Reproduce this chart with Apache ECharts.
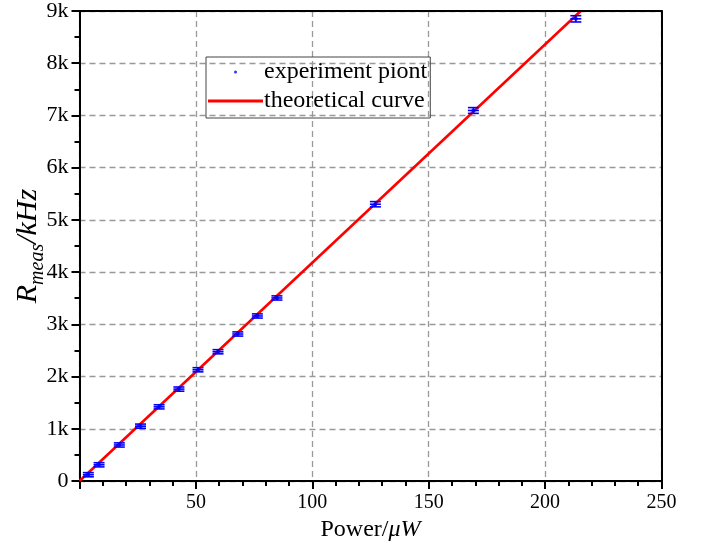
<!DOCTYPE html>
<html><head><meta charset="utf-8">
<script src="https://cdn.jsdelivr.net/npm/echarts@6/dist/echarts.min.js"></script>
<style>html,body{margin:0;padding:0;background:#fff}#c{width:702px;height:543px}</style>
</head><body><div id="c"></div>
<script>
// experiment points: power (µW), count rate (Hz), error (Hz)
const powerX = [3.8, 8.4, 17.1, 26.2, 34.2, 42.7, 50.9, 59.5, 68.0, 76.4, 84.8, 127.1, 169.2, 213.2];
const rateY  = [120, 310, 690, 1050, 1420, 1760, 2130, 2475, 2815, 3160, 3505, 5300, 7095, 8850];
const rateErr = [40, 40, 40, 40, 40, 40, 40, 40, 40, 40, 40, 50, 55, 60];
// theoretical curve
const curveX = [0, 215.3];
const curveY = [0, 9000];
const xTicks = [0, 50, 100, 150, 200, 250];
const yTicks = ['0','1k','2k','3k','4k','5k','6k','7k','8k','9k'];

const serif = 'Liberation Serif';
const chart = echarts.init(document.getElementById('c'));
const pts = powerX.map((x, i) => [x, rateY[i], rateErr[i]]);
const curve = curveX.map((x, i) => [x, curveY[i]]);
const dashed = {show: true, lineStyle: {color: '#999', type: [6, 4], width: 1.3}};
const frame = {onZero: false, lineStyle: {color: '#000', width: 2}};
chart.setOption({
  animation: false,
  backgroundColor: '#fff',
  grid: {left: 79.5, right: 40.5, top: 11, bottom: 62, containLabel: false, outerBoundsMode: 'none'},
  legend: {
    orient: 'vertical', left: 206, top: 57,
    borderColor: '#444', borderWidth: 1, padding: [3, 3, 5, 2],
    itemWidth: 55, itemHeight: 3, itemGap: 5,
    textStyle: {fontFamily: serif, fontSize: 24, color: '#000', padding: [0, 0, 0, -4]},
    data: [{name: 'experiment piont', icon: 'circle'}, {name: 'theoretical curve', icon: 'rect'}]
  },
  xAxis: [{
    type: 'value', min: xTicks[0], max: xTicks[xTicks.length - 1], interval: 50,
    name: '{n|Power/}{i|μW}', nameLocation: 'middle', nameGap: 37, nameMoveOverlap: false,
    nameTextStyle: {rich: {n: {fontFamily: serif, fontSize: 24, color: '#000'}, i: {fontFamily: serif, fontSize: 24, fontStyle: 'italic', color: '#000'}}},
    axisLine: frame,
    axisTick: {show: true, inside: false, length: 8, lineStyle: {color: '#000', width: 2}},
    minorTick: {show: true, splitNumber: 5, length: 5, lineStyle: {color: '#000', width: 2}},
    axisLabel: {fontFamily: serif, fontSize: 20, color: '#000', margin: 12,
      formatter: v => v === 0 ? '' : String(v)},
    splitLine: dashed
  }, {
    type: 'value', position: 'top', min: 0, max: 250, z: 10,
    axisLine: frame, axisTick: {show: false}, axisLabel: {show: false}, splitLine: {show: false}
  }],
  yAxis: [{
    type: 'value', min: 0, max: 9000, interval: 1000,
    name: '{r|R}{s|meas}{r|/kHz}', nameLocation: 'middle', nameGap: 34, nameMoveOverlap: false,
    nameTextStyle: {rich: {
      r: {fontFamily: serif, fontSize: 30, fontStyle: 'italic', color: '#000', lineHeight: 34},
      s: {fontFamily: serif, fontSize: 20, fontStyle: 'italic', color: '#000', verticalAlign: 'bottom', lineHeight: 34, padding: [0, 0, -2, 0]}
    }},
    axisLine: frame,
    axisTick: {show: true, inside: false, length: 8, lineStyle: {color: '#000', width: 2}},
    minorTick: {show: true, splitNumber: 2, length: 5, lineStyle: {color: '#000', width: 2}},
    axisLabel: {fontFamily: serif, fontSize: 22, color: '#000', margin: 11,
      formatter: v => yTicks[Math.round(v / 1000)]},
    splitLine: dashed
  }, {
    type: 'value', position: 'right', min: 0, max: 9000, z: 10,
    axisLine: frame, axisTick: {show: false}, axisLabel: {show: false}, splitLine: {show: false}
  }],
  series: [
    {name: 'theoretical curve', type: 'line', data: curve, showSymbol: false, color: '#ff0000',
     lineStyle: {color: '#ff0000', width: 2.6}, z: 2},
    {name: 'experiment piont', type: 'scatter', data: pts.map(p => [p[0], p[1]]), symbolSize: 4,
     itemStyle: {color: '#0000ff'}, z: 4},
    {name: 'err', type: 'custom', data: pts, z: 3,
     renderItem: (params, api) => {
       const x = api.value(0), y = api.value(1), e = api.value(2);
       const c = api.coord([x, y]), t = api.coord([x, y + e]), b = api.coord([x, y - e]);
       const w = 5.5;
       const st = {stroke: '#0000ff', lineWidth: 1.6};
       return {type: 'group', children: [
         {type: 'line', shape: {x1: c[0], y1: t[1], x2: c[0], y2: b[1]}, style: st},
         {type: 'line', shape: {x1: c[0] - w, y1: t[1], x2: c[0] + w, y2: t[1]}, style: st},
         {type: 'line', shape: {x1: c[0] - w, y1: b[1], x2: c[0] + w, y2: b[1]}, style: st},
         {type: 'line', shape: {x1: c[0] - w, y1: c[1], x2: c[0] + w, y2: c[1]}, style: st}
       ]};
     }}
  ]
});
</script></body></html>
